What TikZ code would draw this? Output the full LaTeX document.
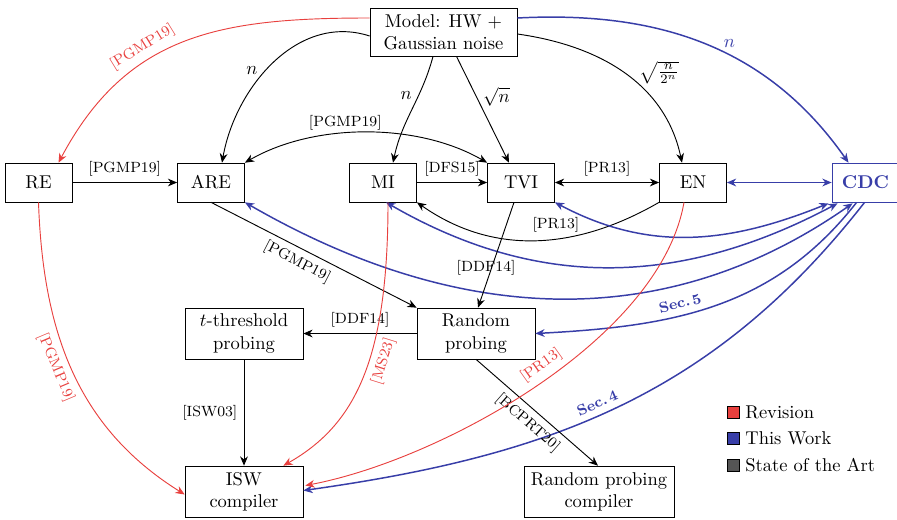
\documentclass[tikz,border=0pt]{standalone}
\usetikzlibrary{arrows.meta,calc}
\definecolor{revred}{RGB}{232,64,62}
\definecolor{twblue}{RGB}{56,62,168}
\definecolor{sotagray}{RGB}{85,85,85}
\tikzset{
  box/.style={draw, rectangle, minimum width=36.2pt, minimum height=21pt, inner sep=2pt},
  wbox/.style={box, minimum width=63.7pt, minimum height=27.5pt, align=center, inner sep=1pt},
  lab/.style={font=\footnotesize},
  sota/.style={->, black, line width=0.5pt},
  rev/.style={->, revred, line width=0.5pt},
  tw/.style={->, twblue, line width=0.8pt},
  legbox/.style={draw, minimum size=6.4pt, inner sep=0pt},
  >={Stealth[length=5pt,width=4.2pt,inset=1.6pt]}
}
\begin{document}
\begin{tikzpicture}[x=0.54pt,y=0.54pt]
\useasboundingbox (0,0) rectangle (897,-519);
% nodes
\node[box, align=center, minimum width=79.4pt, minimum height=26pt, inner sep=1pt] (Model) at (443.5,-32) {Model: HW +\\Gaussian noise};
\node[box] (RE) at (38.5,-182.5) {RE};
\node[box] (ARE) at (211,-182.5) {ARE};
\node[box] (MI) at (383,-182.5) {MI};
\node[box] (TVI) at (521,-182.5) {TVI};
\node[box] (EN) at (693,-182.5) {EN};
\node[box, draw=twblue, text=twblue, font=\bfseries] (CDC) at (865.5,-182.5) {CDC};
\node[wbox] (TT) at (244,-333.5) {$t$-threshold\\probing};
\node[wbox] (RP) at (476,-333.5) {Random\\probing};
\node[wbox] (ISW) at (244,-491.5) {ISW\\compiler};
\node[wbox, minimum width=81pt] (RPC) at (599,-491.5) {Random probing\\compiler};
% legend
\node[legbox, fill=revred] (L1) at (733,-412) {};
\node[legbox, fill=twblue] (L2) at (733,-438) {};
\node[legbox, fill=sotagray] (L3) at (733,-465) {};
\node[anchor=west, inner sep=0pt] (T1) at (745,-412) {Revision};
\node[anchor=west, inner sep=0pt] (T2) at (745,-438) {This Work};
\node[anchor=west, inner sep=0pt] (T3) at (745,-465) {State of the Art};
% from Model
\draw[rev] ($(Model.west)+(0,14)$) to[out=180,in=62,looseness=1.1] node[lab, sloped, above, pos=0.62, text=revred] {[PGMP19]} ($(RE.north)+(20,0)$);
\draw[sota] ($(Model.west)+(0,-4)$) to[out=162,in=80] node[pos=0.55, left, xshift=-1pt] {$n$} ($(ARE.north)+(11,0)$);
\draw[sota] ($(Model.south)+(-10.5,0)$) to[out=-105,in=78] node[pos=0.36, left] {$n$} ($(MI.north)+(10,0)$);
\draw[sota] ($(Model.south)+(13,0)$) -- node[pos=0.38, right] {$\sqrt{n}$} ($(TVI.north)+(-12,0)$);
\draw[sota] ($(Model.east)+(0,-2)$) to[out=-8,in=102] node[pos=0.5, right, xshift=5pt] {$\sqrt{\frac{n}{2^n}}$} ($(EN.north)+(-11,0)$);
\draw[tw] ($(Model.east)+(0,14)$) to[out=3,in=125] node[pos=0.57, above right, text=twblue, xshift=-6pt] {$n$} ($(CDC.north)+(-17,0)$);
% row
\draw[sota] (RE) -- node[lab, above] {[PGMP19]} (ARE);
\draw[sota,<->] (ARE.north east) to[out=30,in=150,looseness=0.85] node[lab, above, pos=0.42, inner sep=1.5pt] {[PGMP19]} (TVI.north west);
\draw[sota] (MI) -- node[lab, above] {[DFS15]} (TVI);
\draw[sota,<->] (TVI) -- node[lab, above] {[PR13]} (EN);
\draw[tw,<->] (EN) -- (CDC);
\draw[sota] (EN.south west) to[out=-150,in=-35] node[lab, above, pos=0.42] {[PR13]} (MI.south east);
% blue to CDC
\draw[tw,<->] (TVI.south east) to[out=-28,in=-158] ($(CDC.south west)+(-3,-1)$);
\draw[tw,<->] ($(MI.south)+(3,0)$) to[out=-30,in=-152] ($(CDC.south west)+(6,-1)$);
\draw[tw,<->] (ARE.south east) to[out=-30,in=-145] ($(CDC.south west)+(21,-1)$);
\draw[tw] ($(CDC.south west)+(25,0)$) to[out=-128,in=3] node[lab, sloped, above, pos=0.6, text=twblue, font=\footnotesize\bfseries] {Sec.\,5} (RP.east);
\draw[tw] ($(CDC.south west)+(33,0)$) to[out=-128,in=8] node[lab, sloped, above, pos=0.53, text=twblue, font=\footnotesize\bfseries] {Sec.\,4} ($(ISW.east)+(0,1)$);
% lower black
\draw[sota] (ARE.south) -- node[lab, sloped, below, pos=0.45] {[PGMP19]} (RP.north west);
\draw[sota] ($(TVI.south)+(-7,0)$) -- node[lab, pos=0.62, xshift=-3pt] {[DDF14]} ($(RP.north)+(2,0)$);
\draw[sota] (RP) -- node[lab, above] {[DDF14]} (TT);
\draw[sota] (TT) -- node[lab, left] {[ISW03]} (ISW);
\draw[sota] (RP.south) -- node[lab, sloped, below, pos=0.5] {[BCPRT20]} ($(RPC.north)+(-1,0)$);
% red
\draw[rev] (RE.south) to[out=-88,in=148] node[lab, sloped, below, pos=0.47, text=revred] {[PGMP19]} ($(ISW.west)+(0,-3)$);
\draw[rev] ($(MI.south)+(5,0)$) .. controls (388,-360) and (355,-425) .. node[lab, sloped, below, pos=0.42, text=revred] {[MS23]} ($(ISW.north east)+(-20,0)$);
\draw[rev] ($(EN.south)+(-9,0)$) .. controls (660,-340) and (440,-460) .. node[lab, sloped, above, pos=0.47, text=revred] {[PR13]} ($(ISW.east)+(2,6)$);
\end{tikzpicture}
\end{document}
